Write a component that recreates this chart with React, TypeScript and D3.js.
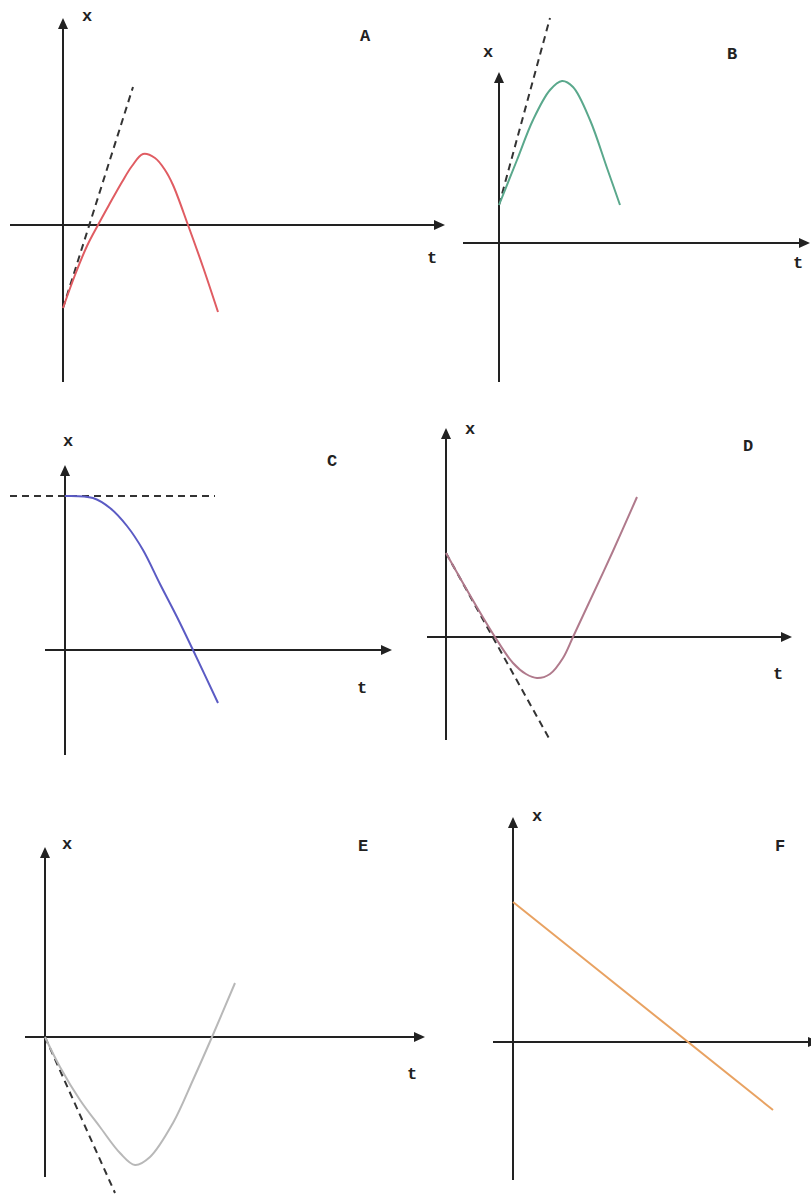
import { scaleLinear, line, curveCatmullRom } from "d3";

// each panel: [t, x] points in sketch units (1 unit = 10px)
const curveA = [[0, -8.3], [1.2, -5.0], [2.4, -2.1], [3.5, 0], [4.6, 2.0], [5.9, 4.3], [6.9, 5.9], [8.0, 7.1], [9.2, 6.7], [10.2, 5.5], [11.0, 4.0], [12.5, 0], [14.0, -4.2], [15.5, -8.7]];
const tangentA = [[0, -8.3], [7.0, 13.8]];

const curveB = [[0, 3.8], [1.8, 8.3], [3.4, 12.3], [5.1, 15.3], [6.3, 16.2], [7.4, 15.6], [9.1, 12.3], [10.8, 7.5], [12.1, 3.8]];
const tangentB = [[0, 3.8], [5.1, 22.5]];

const curveC = [[0, 15.4], [2.8, 15.2], [4.5, 14.2], [6.2, 12.4], [7.8, 10.0], [9.5, 6.6], [11.2, 3.3], [12.8, 0], [15.3, -5.3]];
const tangentC = [[-5.5, 15.4], [15.0, 15.4]];

const curveD = [[0, 8.4], [2.5, 4.0], [4.9, 0], [6.7, -2.6], [8.0, -3.7], [9.1, -4.1], [10.4, -3.7], [11.7, -2.1], [12.7, 0], [14.1, 3.0], [16.7, 8.6], [19.1, 14.0]];
const tangentD = [[0, 8.4], [10.4, -10.3]];

const curveE = [[0, 0], [1.5, -3.0], [3.5, -6.3], [5.5, -9.0], [7.5, -11.6], [9.0, -12.8], [10.5, -12.0], [12.8, -8.6], [14.8, -4.3], [16.7, 0], [19.0, 5.4]];
const tangentE = [[0, 0], [7.0, -15.6]];

const curveF = [[0, 14.0], [26.0, -6.8]];

const panels = [
    { id: "A", ox: 63, oy: 225, tExt: [-5.3, 38.2], xExt: [-15.7, 20.7], curve: curveA, tangent: tangentA, color: "#e05c62",
      xLab: [24, -208], idLab: [302, -190], tLab: [369, 32] },
    { id: "B", ox: 499, oy: 243, tExt: [-3.6, 31.1], xExt: [-13.9, 17.1], curve: curveB, tangent: tangentB, color: "#5aa88c",
      xLab: [-11, -190], idLab: [233, -190], tLab: [299, 19] },
    { id: "C", ox: 65, oy: 650, tExt: [-2.0, 32.7], xExt: [-10.5, 18.5], curve: curveC, tangent: tangentC, color: "#5b5bc4",
      xLab: [3, -208], idLab: [267, -190], tLab: [297, 37] },
    { id: "D", ox: 446, oy: 637, tExt: [-1.9, 34.6], xExt: [-10.3, 20.9], curve: curveD, tangent: tangentD, color: "#b07a8c",
      xLab: [24, -207], idLab: [302, -192], tLab: [332, 36] },
    { id: "E", ox: 45, oy: 1037, tExt: [-2.0, 38.0], xExt: [-14.0, 19.0], curve: curveE, tangent: tangentE, color: "#b8b8b8",
      xLab: [22, -192], idLab: [318, -192], tLab: [367, 36] },
    { id: "F", ox: 513, oy: 1042, tExt: [-2.0, 30.6], xExt: [-13.8, 22.5], curve: curveF, tangent: null, color: "#e8a262",
      xLab: [24, -225], idLab: [267, -197], tLab: null },
];

const UNIT = 10;
const AXIS = "#222";

function Panel({ p }) {
    const ts = scaleLinear().domain([0, 1]).range([p.ox, p.ox + UNIT]);
    const xs = scaleLinear().domain([0, 1]).range([p.oy, p.oy - UNIT]);
    const path = line().x(d => ts(d[0])).y(d => xs(d[1])).curve(curveCatmullRom.alpha(0.5));

    const t0 = ts(p.tExt[0]), t1 = ts(p.tExt[1]);
    const xb = xs(p.xExt[0]), xt = xs(p.xExt[1]);
    const font = { fontFamily: "'Liberation Mono', 'Courier New', monospace", fontWeight: "bold", fontSize: 17, fill: "#222" };

    return (
        <g>
            <line x1={t0} y1={p.oy} x2={t1 - 8} y2={p.oy} stroke={AXIS} strokeWidth={2} />
            <path d={`M${t1},${p.oy} L${t1 - 11},${p.oy - 5} L${t1 - 11},${p.oy + 5} Z`} fill={AXIS} />
            <line x1={p.ox} y1={xb} x2={p.ox} y2={xt + 8} stroke={AXIS} strokeWidth={2} />
            <path d={`M${p.ox},${xt} L${p.ox - 5},${xt + 11} L${p.ox + 5},${xt + 11} Z`} fill={AXIS} />

            {p.tangent ? (
                <path d={path(p.tangent)} fill="none" stroke="#333" strokeWidth={2} strokeDasharray="7 5" />
            ) : null}
            <path d={path(p.curve)} fill="none" stroke={p.color} strokeWidth={2} />

            <text x={p.ox + p.xLab[0]} y={p.oy + p.xLab[1] + 4} textAnchor="middle" style={font}>x</text>
            <text x={p.ox + p.idLab[0]} y={p.oy + p.idLab[1] + 6} textAnchor="middle" style={font}>{p.id}</text>
            {p.tLab ? (
                <text x={p.ox + p.tLab[0]} y={p.oy + p.tLab[1] + 6} textAnchor="middle" style={font}>t</text>
            ) : null}
        </g>
    );
}

export default function App() {
    return (
        <div>
            <style>{`body{margin:0;background:#fff}`}</style>
            <svg width={811} height={1195} style={{ display: "block", background: "#fff" }}>
                {panels.map(p => <Panel key={p.id} p={p} />)}
            </svg>
        </div>
    );
}
